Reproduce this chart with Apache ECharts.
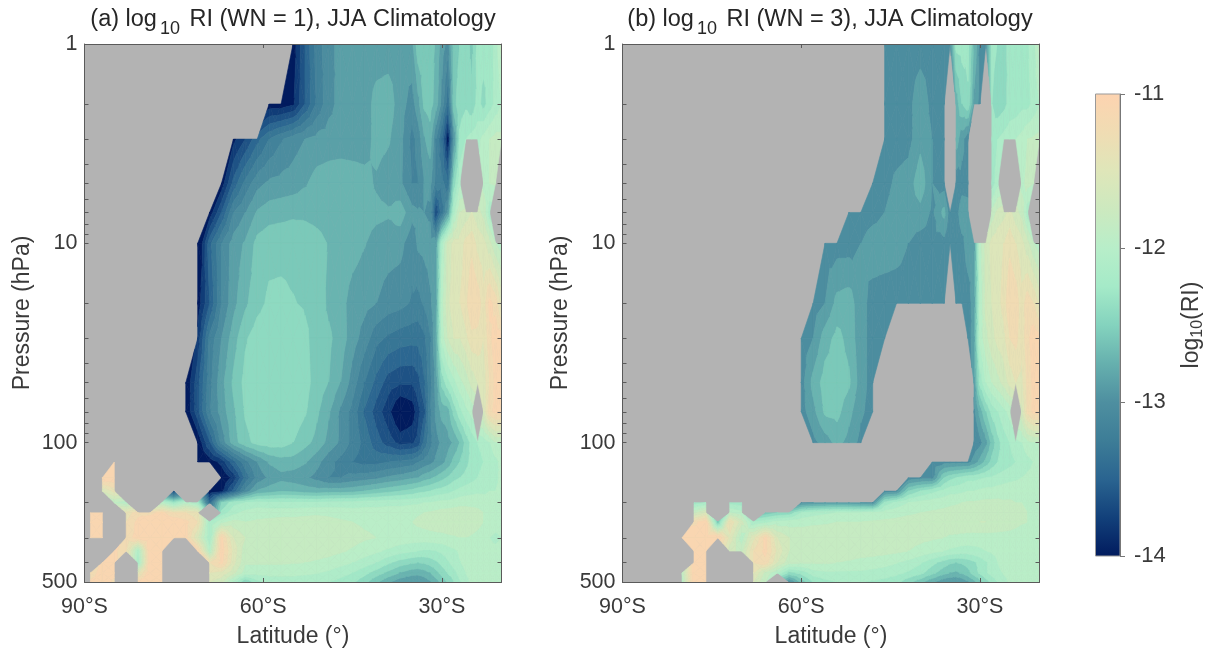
<!DOCTYPE html>
<html><head><meta charset="utf-8">
<script src="https://cdn.jsdelivr.net/npm/echarts@6/dist/echarts.min.js"></script>
<style>html,body{margin:0;padding:0;background:#fff}#c{width:1217px;height:654px}</style></head>
<body><div id="c"></div>
<script>
const n = null;
const pressures = [1,2,3,5,7,10,20,30,50,70,100,125,150,175,200,225,250,300,350,400,450,500];
const latsA = [-90,-89,-87,-85,-83,-81,-79,-77,-75,-73,-71,-69,-67,-65,-63,-61,-59,-57,-55,-53,-51,-49,-47,-45,-43,-41,-39,-37,-35,-34,-33,-32,-31,-30,-29,-28,-27,-26,-25,-24,-23,-22,-21,-20];
const latsB = [-90,-88,-86,-84,-82,-80,-78,-76,-74,-72,-70,-68,-66,-64,-62,-60,-58,-56,-54,-52,-50,-48,-46,-44,-42,-40,-38,-36,-35,-34,-33,-32,-31,-30,-29,-28,-27,-26,-25,-24,-23,-22,-21,-20];
// log10(RI), one row per pressure level; rows are right-aligned on the latitude list (missing left part = no data)
const riA = [
[-13.95,-13.55,-13.18,-13.0,-12.9,-12.88,-12.88,-12.88,-12.88,-12.88,-12.82, -12.55,-12.55,-12.55,-12.68,-12.88,-13.0,-12.58,-12.5,-12.42,-12.55,-12.3,-12.28,-12.28,-12.15,-11.85],
[-13.95,-13.95,-13.88,-13.55,-13.22,-13.0,-12.9,-12.88,-12.87,-12.75,-12.72,-12.88,-13.02, -12.85,-12.62,-12.58,-12.72,-13.0,-13.35,-12.55,-12.42,-12.38,-12.45,-12.3,-12.4,-12.28,-12.15,-12.05],
[-13.9,-13.7,-13.45,-13.25,-13.12,-13.02,-12.95,-12.9,-12.88,-12.88,-12.88,-12.87,-12.75,-12.78,-12.9,-13.15, -13.05,-12.82,-12.72,-13.1,-13.4,-13.95,-12.95,-12.32,-12.2,-12.15,-12.1,-12.0,-11.9,-11.85,-11.85],
[-13.95,-13.5,-13.2,-13.0,-12.92,-12.9,-12.88,-12.82,-12.74,-12.72,-12.7,-12.72,-12.75,-12.82,-12.88,-12.92,-13.1, -13.1,-12.95,-12.9,-13.15,-13.2,-13.35,-12.45,-12.1,n,n,n,-11.95,-11.9,-11.88,n],
[-13.95,-13.55,-13.1,-12.95,-12.78,-12.72,-12.7,-12.68,-12.68,-12.7,-12.72,-12.72,-12.74,-12.74,-12.76,-12.78,-12.72,-12.9, -12.93,-12.95,-12.98,-13.7,-13.3,-12.9,-12.1,-11.75,-11.7,-11.6,-11.7,-11.8,-12.15,n,n],
[-14.1,-13.45,-13.1,-12.88,-12.78,-12.6,-12.55,-12.55,-12.55,-12.57,-12.6,-12.66,-12.7,-12.74,-12.79,-12.86,-12.88,-12.9,-13.05, -12.92,-12.9,-12.88,-12.85,-12.1,-11.7,-11.55,-11.55,-11.4,-11.35,-11.5,-11.55,-11.7,-11.9,-12.0],
[-13.95,-13.55,-13.1,-12.85,-12.68,-12.55,-12.47,-12.46,-12.49,-12.52,-12.56,-12.68,-12.75,-12.86,-12.9,-12.95,-13.02,-13.05,-13.12, -13.15,-13.08,-12.98,-12.85,-11.95,-11.65,-11.5,-11.45,-11.35,-11.15,-11.2,-11.4,-11.1,-11.2,-11.5],
[-13.8,-13.2,-12.95,-12.72,-12.52,-12.42,-12.38,-12.36,-12.36,-12.46,-12.58,-12.62,-12.72,-12.88,-13.02,-13.2,-13.28,-13.33,-13.35, -13.35,-13.28,-13.12,-12.8,-12.0,-11.75,-11.6,-11.6,-11.5,-11.35,-11.35,-11.45,-11.2,-11.05,-11.1],
[-14.0,-13.6,-13.15,-12.85,-12.62,-12.45,-12.38,-12.36,-12.36,-12.36,-12.44,-12.57,-12.65,-12.8,-13.02,-13.25,-13.45,-13.62,-13.68,-13.68, -13.6,-13.42,-13.15,-12.9,-12.45,-12.25,-12.1,-11.95,-11.85,-11.7,-11.6,-11.55,-11.3,-11.1,-11.1],
[-14.0,-13.6,-13.12,-12.88,-12.68,-12.48,-12.4,-12.38,-12.38,-12.4,-12.48,-12.62,-12.78,-12.98,-13.15,-13.42,-13.62,-13.8,-14.05,-13.95, -13.75,-13.6,-13.12,-12.92,-12.75,-12.72,-12.45,-12.25,-12.1,-12.0,n,-11.6,-11.2,-11.1,-11.1],
[-14.0,-13.55,-13.05,-12.72,-12.55,-12.45,-12.42,-12.43,-12.5,-12.6,-12.7,-12.85,-12.98,-13.15,-13.3,-13.48,-13.62,-13.75,-13.72, -13.65,-13.35,-13.15,-13.0,-12.92,-12.85,-12.78,-12.65,-12.45,-12.3,-12.2,-12.15,-12.05,-11.9,-11.9],
[-11.0,n,n,n,n,n,n,-14.0, -13.95,-13.8,-13.45,-13.15,-12.95,-12.78,-12.72,-12.72,-12.78,-12.9,-13.05,-13.15,-13.25,-13.3,-13.3,-13.25,-13.22,-13.18, -13.1,-13.05,-13.0,-12.92,-12.85,-12.75,-12.6,-12.5,-12.4,-12.3,-12.25,-12.2,-12.15,-12.1,-12.0],
[-11.0,-11.0,n,n,n,n,n,n,n,n, -14.0,-13.8,-13.35,-13.05,-12.92,-12.85,-12.88,-12.92,-13.0,-13.1,-13.1,-13.05,-13.02,-12.98,-12.92,-12.88,-12.82, -12.8,-12.72,-12.68,-12.62,-12.55,-12.48,-12.4,-12.35,-12.3,-12.25,-12.2,-12.15,-12.12,-12.1,-12.0],
[-11.6,-11.4,n,n,n,n,-13.7,n,n, -14.0,-13.9,-13.5,-13.05,-12.78,-12.72,-12.66,-12.68,-12.72,-12.74,-12.72,-12.72,-12.7,-12.65,-12.6,-12.55,-12.5,-12.45, -12.4,-12.38,-12.35,-12.3,-12.28,-12.25,-12.2,-12.15,-12.12,-12.1,-12.08,-12.08,-12.05,-12.05,-12.0],
[-11.9,-12.0,n,n,-12.0,-12.3,-12.0,-12.2, -13.4,-12.5,-12.25,-12.2,-12.15,-12.18,-12.18,-12.18,-12.18,-12.18,-12.16,-12.15,-12.15,-12.12,-12.12,-12.1,-12.1,-12.08, -12.08,-12.05,-12.05,-12.02,-12.0,-12.0,-11.98,-11.95,-11.95,-11.95,-11.95,-11.98,-12.0,-12.0,-12.0],
[-11.0,-11.0,n,-11.4,-11.2,-11.2,-11.1,-11.3,-11.3,-11.4,n, -12.3,-12.1,-12.0,-11.95,-11.95,-11.95,-11.95,-11.93,-11.92,-11.93,-11.95,-11.97,-11.97,-11.97,-11.97,-11.97,-11.95, -11.92,-11.9,-11.88,-11.86,-11.84,-11.83,-11.82,-11.82,-11.82,-11.84,-11.86,-11.9,-11.92,-11.95,-11.95],
[-11.0,-11.0,n,-11.3,-11.1,-11.0,-11.0,-11.0,-11.1,-11.3,-12.2, -11.95,-11.85,-11.9,-11.88,-11.87,-11.85,-11.85,-11.85,-11.85,-11.86,-11.88,-11.9,-11.92,-11.93,-11.93,-11.92,-11.9, -11.87,-11.85,-11.83,-11.82,-11.8,-11.8,-11.79,-11.79,-11.8,-11.82,-11.85,-11.9,-11.92,-11.95,-11.95],
[-11.0,-11.0,n,-11.2,-11.1,-11.0,-11.0,-11.0,-11.1,-11.6,-12.2, -11.1,-11.6,-11.75,-11.8,-11.8,-11.8,-11.8,-11.8,-11.8,-11.82,-11.83,-11.85,-11.88,-11.9,-11.92,-11.95,-11.97, -11.97,-11.97,-11.96,-11.95,-11.95,-11.93,-11.92,-11.9,-11.9,-11.92,-11.95,-12.0,-12.05,-12.1,-12.05],
[-11.1,-11.3,-12.1,-11.0,-11.0,n,n,-11.1,-12.0, -11.05,-11.5,-11.85,-11.83,-11.83,-11.83,-11.83,-11.83,-11.84,-11.85,-11.88,-11.92,-11.97,-12.02,-12.08,-12.14,-12.18, -12.2,-12.22,-12.22,-12.2,-12.17,-12.12,-12.08,-12.03,-12.0,-11.97,-11.97,-11.98,-12.0,-12.0,-11.95],
[-11.1,-11.1,n,-12.2,-11.0,-11.0,n,n,n,-11.3, -11.1,-11.55,-11.88,-11.88,-11.88,-11.88,-11.89,-11.9,-11.92,-11.95,-12.0,-12.05,-12.12,-12.2,-12.32,-12.42,-12.48, -12.5,-12.48,-12.44,-12.38,-12.3,-12.22,-12.14,-12.06,-12.0,-11.97,-11.96,-11.96,-11.97,-11.98,-11.95],
[-11.3,-11.0,-11.1,n,-11.5,-11.0,-11.0,n,n,n,-11.45, -11.5,-11.7,-11.98,-12.0,-12.0,-12.0,-12.0,-12.02,-12.04,-12.08,-12.14,-12.2,-12.3,-12.42,-12.54,-12.66,-12.74, -12.75,-12.72,-12.65,-12.55,-12.44,-12.34,-12.25,-12.14,-12.05,-12.0,-11.96,-11.95,-11.95,-11.95,-11.95],
[-11.1,-11.0,-11.2,n,-11.1,-11.0,-11.0,n,n,n,-11.6, -11.7,-12.1,-12.5,-12.25,-12.14,-12.14,-12.14,-12.15,-12.17,-12.2,-12.25,-12.32,-12.45,-12.62,-12.78,-12.9,-12.95, -12.95,-12.9,-12.82,-12.72,-12.6,-12.48,-12.35,-12.22,-12.1,-12.02,-11.97,-11.93,-11.9,-11.9,-11.92]
];
const riB = [
[-13.02,-13.02,-13.02,-13.02,-13.02,-13.05,-13.0, -12.3,-12.28,-12.3,-12.65,-13.0,-13.0,-12.3,-12.35,-12.42,-12.28,-12.25,-12.22,-12.22,-12.1,-11.85],
[-13.02,-13.02,-13.0,-12.85,-13.0,-13.02,n, -12.75,-12.5,-12.38,-12.85,-13.0,n,-12.35,-12.45,-12.4,-12.3,-12.3,-12.25,-12.25,-12.15,-12.05],
[-13.02,-13.02,-13.0,-12.85,-12.95,-13.02,n, -12.72,-12.9,-13.05,n,n,n,-12.3,-12.2,-12.15,-12.1,-12.05,-12.0,-11.9,-11.88,-11.85],
[-13.02,-13.0,-12.92,-12.88,-12.7,-12.95,-13.02,n, -13.05,-13.0,-13.0,n,n,n,-12.3,-12.1,n,n,n,-11.95,-11.85,-11.9,n],
[-13.02,-13.02,-13.0,-12.95,-12.88,-12.87,-12.85,-12.98,-12.75,-13.05, -13.0,-12.88,-12.9,n,n,n,-11.85,-11.7,-11.65,-11.55,-11.7,-11.8,-12.15,n,n],
[-13.02,-13.02,-13.02,-12.95,-12.88,-12.88,-12.9,-12.95,-13.02,-13.0,-13.0,-13.05, -13.02,-12.98,-12.9,-12.92,-11.95,-11.7,-11.55,-11.5,-11.45,-11.35,-11.45,-11.55,-11.7,-11.9,-12.0],
[-13.02,-12.95,-12.75,-12.72,-12.9,-13.0,-13.02,-13.02,-13.02,-13.02,-13.02,-13.02,n, -13.02,-13.02,-13.0,-12.9,-12.05,-11.7,-11.6,-11.5,-11.4,-11.15,-11.2,-11.4,-11.2,-11.3,-11.5],
[-13.02,-12.95,-12.72,-12.6,-12.7,-12.9,-13.0,-13.02, n,n,n,n,n,n, n,n,-13.05,-12.85,-12.0,-11.8,-11.65,-11.55,-11.5,-11.3,-11.25,-11.4,-11.2,-11.05,-11.1],
[-13.02,-12.75,-12.58,-12.56,-12.62,-12.88,-13.02, n,n,n,n,n,n,n, n,n,n,-12.9,-12.3,-12.05,-11.9,-11.8,-11.7,-11.55,-11.45,-11.5,-11.25,-11.1,-11.1],
[-13.02,-12.85,-12.62,-12.6,-12.75,-12.92,-13.02, n,n,n,n,n,n,n, n,n,n,-13.0,-12.75,-12.5,-12.3,-12.2,-12.1,-12.0,n,-11.65,-11.25,-11.1,-11.1],
[-13.0,-12.88,-12.75,-12.85,-13.0, n,n,n,n,n,n,n,n, n,n,n,-13.05,-13.0,-12.85,-12.6,-12.4,-12.28,-12.2,-12.1,-12.05,-11.95,-11.9,-11.9],
[-13.05,-13.0,-13.0, -13.0,-13.0,-13.0,-12.9,-12.75,-12.6,-12.45,-12.35,-12.3,-12.25,-12.2,-12.15,-12.1,-12.05,-12.0],
[-13.05,-13.0,-13.0,-12.5,-12.4, -12.35,-12.3,-12.25,-12.25,-12.22,-12.2,-12.18,-12.15,-12.12,-12.1,-12.08,-12.05,-12.02,-12.0,-11.98],
[-13.05,-13.0,-12.5,-12.35,-12.25,-12.15,-12.1, -12.1,-12.08,-12.05,-12.05,-12.02,-12.0,-12.0,-11.98,-11.97,-11.95,-11.95,-11.95,-11.97,-11.97,-11.97],
[-12.3,-12.2,n,-12.25,-12.3,n,n,n,n, -13.0,-12.95,-12.92,-12.9,-12.92,-12.95,-13.0,-12.3,-12.15,-12.05,-12.0,-11.97,-11.95,-11.93, -11.92,-11.9,-11.88,-11.88,-11.87,-11.86,-11.86,-11.86,-11.88,-11.88,-11.9,-11.9,-11.92,-11.95,-11.97],
[-11.8,-11.6,n,-11.9,-12.0,n, -12.6,-12.5,-12.45,-12.2,-12.12,-12.08,-12.05,-12.05,-12.05,-12.02,-11.98,-11.95,-11.92,-11.9,-11.88,-11.86,-11.85, -11.83,-11.82,-11.8,-11.8,-11.78,-11.76,-11.78,-11.8,-11.82,-11.84,-11.86,-11.88,-11.9,-11.92,-11.95],
[-11.2,-11.05,-12.6,-11.3,-11.7,-12.2, -12.1,-12.0,-11.98,-11.95,-11.93,-11.92,-11.9,-11.9,-11.9,-11.88,-11.87,-11.86,-11.85,-11.85,-11.85,-11.83,-11.82, -11.8,-11.78,-11.77,-11.76,-11.75,-11.75,-11.76,-11.78,-11.8,-11.82,-11.85,-11.88,-11.9,-11.92,-11.95],
[-11.0,-11.0,-11.0,-11.0,-11.5,-12.0,-11.5, -11.1,-11.6,-11.75,-11.8,-11.8,-11.8,-11.8,-11.8,-11.8,-11.8,-11.82,-11.82,-11.84,-11.86,-11.88,-11.9,-11.92, -11.93,-11.95,-11.96,-11.97,-11.97,-11.97,-11.97,-11.97,-11.97,-11.97,-11.98,-12.0,-12.02,-12.05,-12.05],
[-11.0,-11.0,n,-11.7,-11.8,-11.3, -11.1,-11.5,-11.75,-11.82,-11.82,-11.82,-11.82,-11.82,-11.83,-11.84,-11.85,-11.87,-11.9,-11.95,-12.0,-12.05,-12.08, -12.1,-12.12,-12.12,-12.1,-12.08,-12.05,-12.03,-12.0,-11.99,-11.98,-11.97,-11.97,-11.98,-12.0,-11.95],
[-11.0,-11.0,n,n,n,-11.3, -11.2,-11.6,-11.85,-11.88,-11.88,-11.88,-11.9,-11.92,-11.95,-11.97,-12.0,-12.04,-12.1,-12.18,-12.3,-12.42,-12.48, -12.5,-12.48,-12.44,-12.38,-12.3,-12.22,-12.14,-12.05,-12.0,-11.98,-11.96,-11.95,-11.95,-11.97,-11.95],
[-11.9,-11.0,-11.0,n,n,n,-11.45, -11.8,-12.05,-12.4,-12.3,-12.12,-12.08,-12.08,-12.08,-12.08,-12.1,-12.12,-12.16,-12.22,-12.3,-12.45,-12.6,-12.65, -12.68,-12.62,-12.55,-12.42,-12.32,-12.22,-12.14,-12.08,-12.04,-12.0,-11.96,-11.95,-11.94,-11.94,-11.95],
[-12.0,-11.0,-11.0,n,n,n,-11.6, -11.9,n,-13.0,-12.6,-12.35,-12.25,-12.2,-12.2,-12.2,-12.22,-12.25,-12.3,-12.45,-12.6,-12.78,-12.92,-12.95, -12.95,-12.92,-12.82,-12.7,-12.55,-12.42,-12.3,-12.2,-12.1,-12.03,-11.98,-11.93,-11.92,-11.92,-11.92]
];
const cmapValues = [-14,-13.75,-13.5,-13.25,-13,-12.75,-12.5,-12.25,-12,-11.75,-11.5,-11.25,-11];
const cmapColors = ['#011b5e','#12407a','#2a6490','#3d7d97','#4e8fa0','#66b0ae','#84d3be','#a5eac8','#b8eec9','#cce9bf','#dfe6b9','#f0dcb3','#fdd3b0'];
const bandBase = -14, bandStep = 0.15, bandCount = 20;
const xTickVals = [-90,-60,-30];
const yLabelVals = [1,10,100,500];
const yTickVals = [1,2,3,4,5,6,7,8,9,10,20,30,40,50,60,70,80,90,100,200,300,400,500];
const cbarTicks = [-14,-13,-12,-11];
const fam = '"Liberation Sans",Arial,sans-serif', txt = '#3a3a3a', axc = '#5a5a5a';

const hex = c => [1,3,5].map(i => parseInt(c.substr(i,2),16));
function cmap(v){
  if(v<=cmapValues[0]) return cmapColors[0];
  for(let i=1;i<cmapValues.length;i++) if(v<=cmapValues[i]){
    const t=(v-cmapValues[i-1])/(cmapValues[i]-cmapValues[i-1]), a=hex(cmapColors[i-1]), b=hex(cmapColors[i]);
    return 'rgb('+a.map((x,k)=>Math.round(x+(b[k]-x)*t)).join(',')+')';
  }
  return cmapColors[cmapColors.length-1];
}
const bandColors = Array.from({length:bandCount},(_,k)=>cmap(k===0?bandBase:bandBase+bandStep*(k+0.5)));
const pad = r => new Array(44-r.length).fill(null).concat(r);

function clip(poly, level, above){
  const out=[];
  for(let i=0;i<poly.length;i++){
    const a=poly[i], b=poly[(i+1)%poly.length];
    const ia=above? a[2]>=level : a[2]<=level, ib=above? b[2]>=level : b[2]<=level;
    if(ia) out.push(a);
    if(ia!==ib){ const t=(level-a[2])/(b[2]-a[2]); out.push([a[0]+(b[0]-a[0])*t,a[1]+(b[1]-a[1])*t,level]); }
  }
  return out;
}
function bandIndex(v){ return Math.max(0,Math.min(bandCount-1,Math.floor((v-bandBase)/bandStep))); }
function triangleBands(tri, children){
  const vs=tri.map(p=>p[2]), k0=bandIndex(Math.min(...vs)), k1=bandIndex(Math.max(...vs));
  for(let k=k0;k<=k1;k++){
    let poly=tri;
    if(k>0) poly=clip(poly,bandBase+bandStep*k,true);
    if(poly.length>=3 && k<bandCount-1) poly=clip(poly,bandBase+bandStep*(k+1),false);
    if(poly.length>=3) children.push({type:'polygon',silent:true,shape:{points:poly.map(p=>[p[0],p[1]])},
      style:{fill:bandColors[k],stroke:bandColors[k],lineWidth:0.6}});
  }
}
function contourSeries(lats, rows, xi, yi){
  const grid=rows.map(pad), data=[], index=[];
  for(let j=0;j<pressures.length-1;j++) for(let i=0;i<lats.length-1;i++){
    data.push([lats[i],pressures[j],grid[j][i]]); index.push([i,j]);
  }
  return {type:'custom',coordinateSystem:'cartesian2d',xAxisIndex:xi,yAxisIndex:yi,data,silent:true,z:2,
    encode:{x:0,y:1},clip:true,progressive:0,animation:false,
    renderItem(params,api){
      const [i,j]=index[params.dataIndex], ids=[[i,j],[i+1,j],[i+1,j+1],[i,j+1]];
      const pts=ids.map(([a,b])=>{
        const v=grid[b][a]; if(v===null) return null;
        const c=api.coord([lats[a],pressures[b]]); return [c[0],c[1],v];
      });
      const ok=pts.filter(Boolean), children=[];
      if(ok.length===3) triangleBands(ok,children);
      else if(ok.length===4){
        const m=[0,1,2].map(k=>(ok[0][k]+ok[1][k]+ok[2][k]+ok[3][k])/4);
        for(let q=0;q<4;q++) triangleBands([ok[q],ok[(q+1)%4],m],children);
      }
      return {type:'group',children};
    }};
}
const latAxis=(gi,pos,labels)=>({type:'value',gridIndex:gi,position:pos,min:-90,max:-20,z:5,
  name:labels?'Latitude (°)':'',nameLocation:'middle',nameGap:43,nameTextStyle:{fontSize:23,color:txt,fontFamily:fam},
  splitLine:{show:false},axisLine:{show:true,onZero:false,lineStyle:{color:axc,width:1}},
  axisTick:{show:true,inside:true,length:4,customValues:xTickVals,lineStyle:{color:axc}},
  axisLabel:{show:labels,customValues:xTickVals,margin:14,fontSize:21.5,color:txt,fontFamily:fam,formatter:v=>(-v)+'°S'}});
const pAxis=(gi,pos,labels)=>({type:'log',logBase:10,gridIndex:gi,position:pos,min:1,max:500,inverse:true,z:5,
  name:labels?'Pressure (hPa)':'',nameLocation:'middle',nameGap:50,nameTextStyle:{fontSize:23,color:txt,fontFamily:fam},
  splitLine:{show:false},minorTick:{show:false},axisLine:{show:true,onZero:false,lineStyle:{color:axc,width:1}},
  axisTick:{show:true,inside:true,length:4,customValues:yTickVals,lineStyle:{color:axc}},
  axisLabel:{show:labels,customValues:yLabelVals,margin:7,fontSize:21.5,color:txt,fontFamily:fam,formatter:v=>String(Math.round(v))}});
const titleOf=(tag,wn,x)=>({text:tag+' log{sub|10} RI (WN = '+wn+'), JJA Climatology',left:x,top:0,textAlign:'center',padding:0,
  textStyle:{fontSize:23.5,fontWeight:'normal',color:'#262626',fontFamily:fam,lineHeight:40,
    rich:{sub:{fontSize:18,color:'#262626',fontFamily:fam,padding:[18,3,0,3]}}}});
const stops=cmapValues.map((v,i)=>({offset:(-11-v)/3,color:cmapColors[i]})).reverse();

const chart=echarts.init(document.getElementById('c'),null,{renderer:'canvas'});
chart.setOption({
  animation:false,backgroundColor:'#fff',
  title:[titleOf('(a)',1,293),titleOf('(b)',3,830)],
  grid:[
    {left:84.5,right:1217-501.5,top:44,bottom:654-582,show:true,backgroundColor:'#b3b3b3',borderWidth:0},
    {left:622.5,right:1217-1039.5,top:44,bottom:654-582,show:true,backgroundColor:'#b3b3b3',borderWidth:0},
    {left:1095.5,width:24.5,top:94,height:462,show:false}
  ],
  xAxis:[latAxis(0,'bottom',true),latAxis(0,'top',false),latAxis(1,'bottom',true),latAxis(1,'top',false),
    {type:'value',gridIndex:2,min:0,max:1,show:false}],
  yAxis:[pAxis(0,'left',true),pAxis(0,'right',false),pAxis(1,'left',true),pAxis(1,'right',false),
    {type:'value',gridIndex:2,position:'right',min:-14,max:-11,interval:1,z:5,
     name:'log{sub|10}(RI)',nameLocation:'middle',nameRotate:90,nameGap:58,
     nameTextStyle:{fontSize:23,color:txt,fontFamily:fam,rich:{sub:{fontSize:16,color:txt,fontFamily:fam,padding:[12,0,0,0]}}},
     splitLine:{show:false},axisLine:{show:true,onZero:false,lineStyle:{color:'#777',width:1}},
     axisTick:{show:true,inside:false,length:5,customValues:cbarTicks,lineStyle:{color:'#777'}},
     axisLabel:{margin:14,fontSize:22,color:txt,fontFamily:fam}}],
  series:[
    contourSeries(latsA,riA,0,0),
    contourSeries(latsB,riB,2,2),
    {type:'custom',coordinateSystem:'cartesian2d',xAxisIndex:4,yAxisIndex:4,silent:true,z:2,data:[[0,-14,-11]],encode:{x:0,y:1},
     renderItem(p,api){
       const a=api.coord([0,-11]), b=api.coord([1,-14]);
       return {type:'rect',shape:{x:a[0],y:a[1],width:b[0]-a[0],height:b[1]-a[1]},
         style:{fill:new echarts.graphic.LinearGradient(0,0,0,1,stops),stroke:'#999',lineWidth:1}};
     }}
  ]
});
</script></body></html>
